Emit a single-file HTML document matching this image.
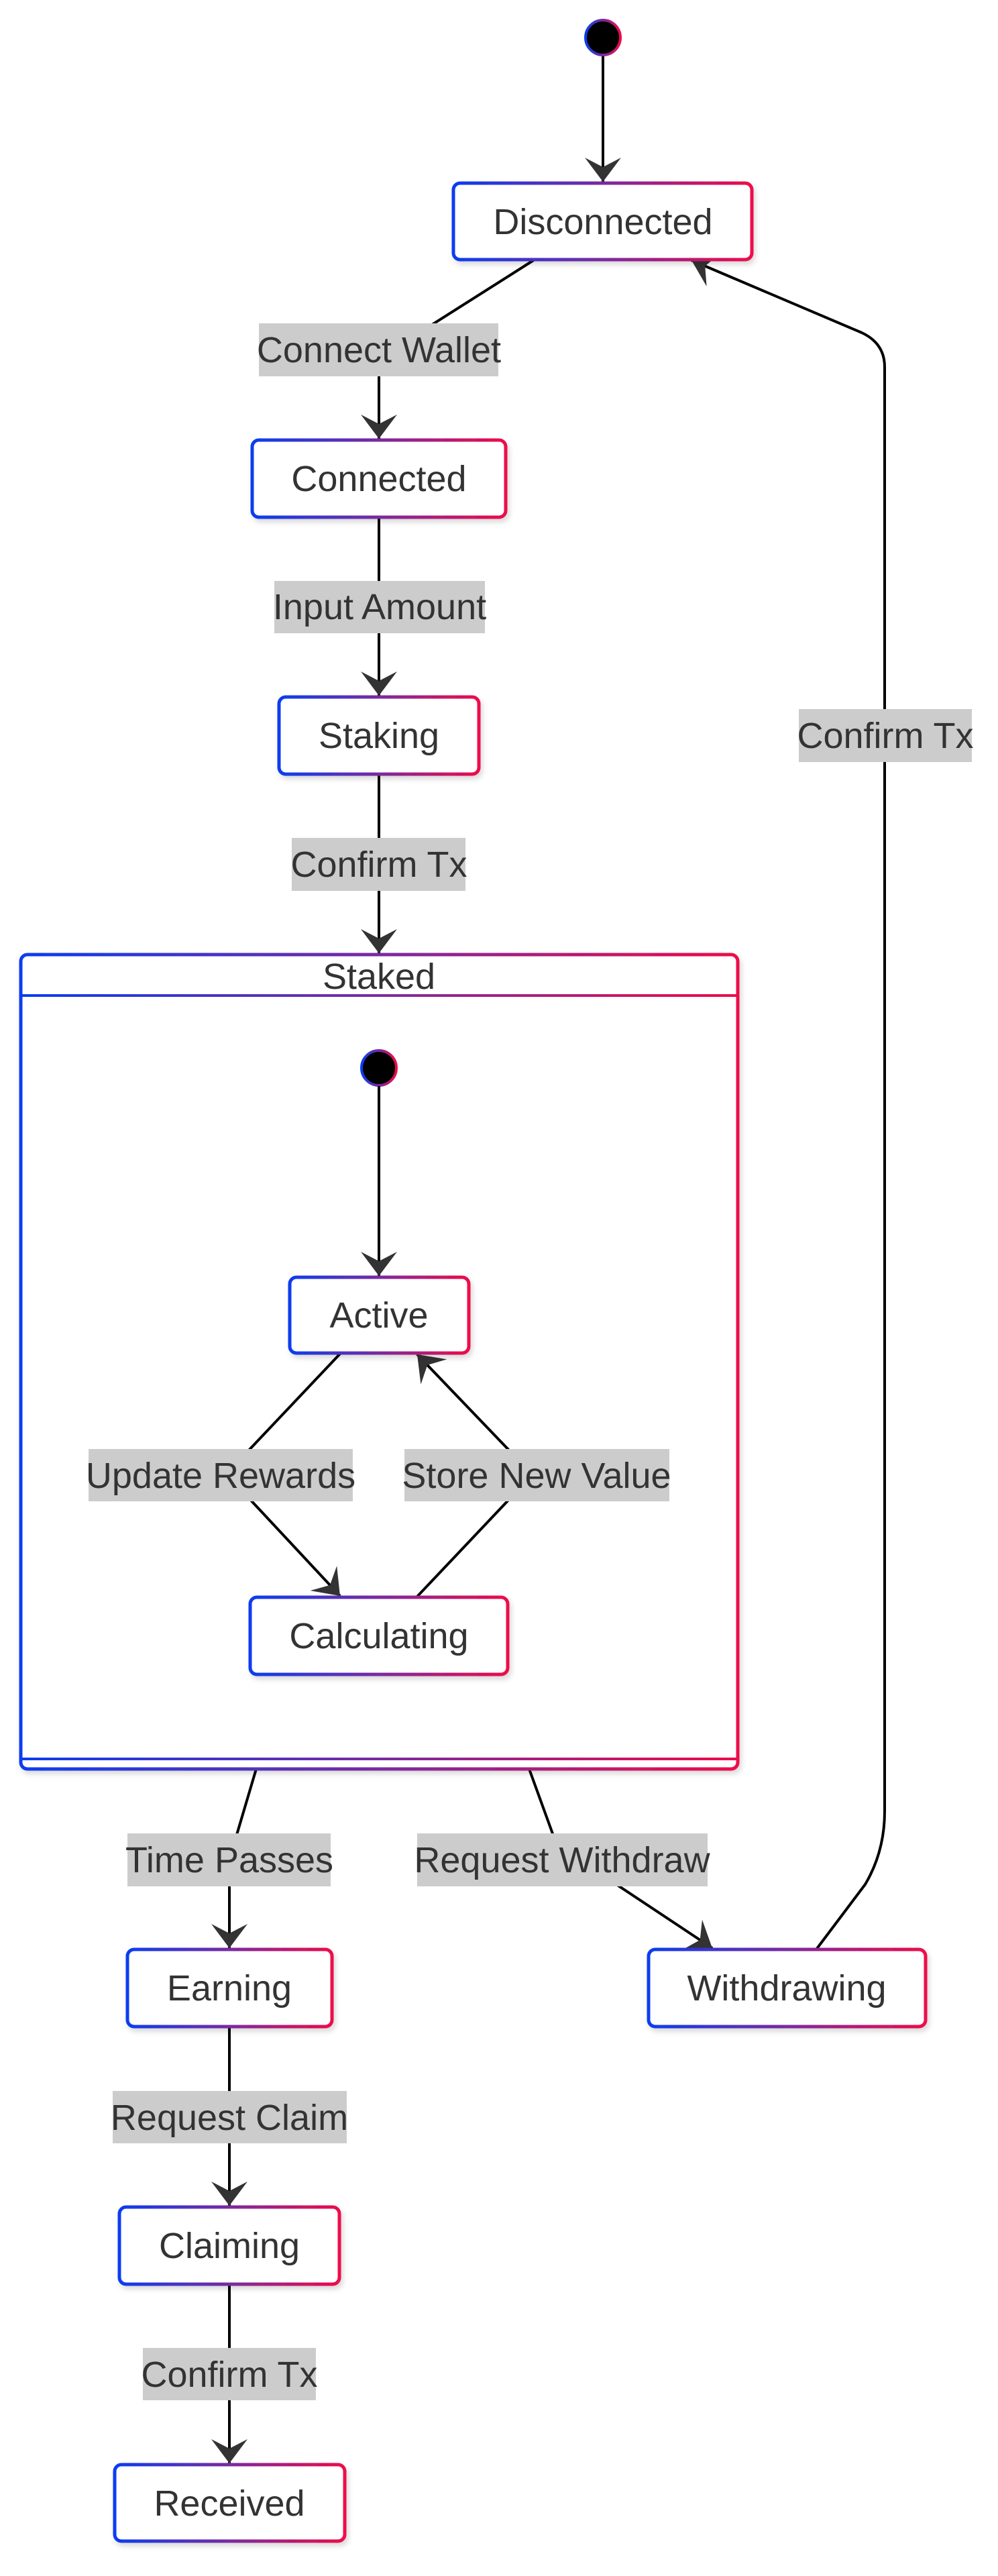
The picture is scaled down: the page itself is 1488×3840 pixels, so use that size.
<!DOCTYPE html>
<html><head><meta charset="utf-8"><style>html,body{margin:0;padding:0;background:#fff}svg{display:block}text{font-family:"Liberation Sans",Arial,sans-serif;font-size:54px;fill:#333;text-anchor:middle}</style></head><body>
<svg width="1488" height="3840" viewBox="0 0 1488 3840" xmlns="http://www.w3.org/2000/svg">
<defs>
<linearGradient id="g" x1="0" y1="0" x2="1" y2="0"><stop offset="0" stop-color="#0a3cf0"/><stop offset="0.5" stop-color="#7a2aa0"/><stop offset="1" stop-color="#ee0a4a"/></linearGradient>
<linearGradient id="gu" gradientUnits="userSpaceOnUse" x1="31" y1="0" x2="1100" y2="0"><stop offset="0" stop-color="#0a3cf0"/><stop offset="0.5" stop-color="#7a2aa0"/><stop offset="1" stop-color="#ee0a4a"/></linearGradient>
<marker id="a" viewBox="-40 -30 45 60" refX="0" refY="0" markerWidth="45" markerHeight="60" markerUnits="userSpaceOnUse" orient="auto"><path d="M0,0 L-36,-27 L-22,0 L-36,27 Z" fill="#333"/></marker>
<filter id="sh" x="-10%" y="-10%" width="120%" height="130%"><feDropShadow dx="3" dy="5" stdDeviation="4" flood-color="#000" flood-opacity="0.15"/></filter>
</defs>
<g fill="none" stroke="#000" stroke-width="4">
<path d="M899,83 L899,271" marker-end="url(#a)"/>
<path d="M797,387 L600,512 Q565,535 565,560 L565,654" marker-end="url(#a)"/>
<path d="M565,771 L565,1037" marker-end="url(#a)"/>
<path d="M565,1154 L565,1421" marker-end="url(#a)"/>
<path d="M382,2637 L350,2745 Q342,2770 342,2800 L342,2904" marker-end="url(#a)"/>
<path d="M789,2637 L830,2750 L1062,2904" marker-end="url(#a)"/>
<path d="M1217,2906 L1290,2809 Q1319,2760 1319,2700 L1319,547 Q1319,512 1285,496 L1031,388" marker-end="url(#a)"/>
<path d="M342,3021 L342,3288" marker-end="url(#a)"/>
<path d="M342,3405 L342,3672" marker-end="url(#a)"/>
</g>
<circle cx="899" cy="56" r="26" fill="#000" stroke="url(#g)" stroke-width="4"/>
<g fill="#fff" stroke="url(#g)" stroke-width="5" filter="url(#sh)">
<rect x="31" y="1423" width="1069" height="1214" rx="10"/>
</g>
<line x1="31" y1="1484" x2="1100" y2="1484" stroke="url(#gu)" stroke-width="4"/>
<line x1="31" y1="2622" x2="1100" y2="2622" stroke="url(#gu)" stroke-width="4"/>
<text x="565" y="1474">Staked</text>
<circle cx="565" cy="1592" r="26" fill="#000" stroke="url(#g)" stroke-width="4"/>
<path d="M565,1619 L565,1902" stroke="#000" stroke-width="4" fill="none" marker-end="url(#a)"/>
<path d="M508,2017 L368,2165 L368,2230 L507,2379" stroke="#000" stroke-width="4" fill="none" marker-end="url(#a)"/>
<path d="M621,2381 L762,2232 L762,2165 L622,2019" stroke="#000" stroke-width="4" fill="none" marker-end="url(#a)"/>
<g fill="#fff" stroke="url(#g)" stroke-width="5" filter="url(#sh)">
<rect x="676" y="273" width="445" height="114" rx="10"/>
<rect x="376" y="656" width="378" height="115" rx="10"/>
<rect x="416" y="1039" width="298" height="115" rx="10"/>
<rect x="432" y="1904" width="267" height="113" rx="10"/>
<rect x="373" y="2381" width="384" height="115" rx="10"/>
<rect x="190" y="2906" width="305" height="115" rx="10"/>
<rect x="967" y="2906" width="413" height="115" rx="10"/>
<rect x="178" y="3290" width="328" height="115" rx="10"/>
<rect x="171" y="3674" width="343" height="114" rx="10"/>
</g>
<text x="899" y="349">Disconnected</text>
<text x="565" y="732">Connected</text>
<text x="565" y="1115">Staking</text>
<text x="565" y="1979">Active</text>
<text x="565" y="2457">Calculating</text>
<text x="342" y="2982">Earning</text>
<text x="1173" y="2982">Withdrawing</text>
<text x="342" y="3366">Claiming</text>
<text x="342" y="3750">Received</text>
<g fill="#ccc">
<rect x="386" y="482" width="357" height="79"/>
<rect x="409" y="866" width="314" height="78"/>
<rect x="435" y="1249" width="259" height="79"/>
<rect x="1191" y="1057" width="258" height="79"/>
<rect x="132" y="2160" width="394" height="78"/>
<rect x="603" y="2160" width="395" height="78"/>
<rect x="190" y="2733" width="303" height="79"/>
<rect x="622" y="2733" width="433" height="79"/>
<rect x="168" y="3117" width="349" height="78"/>
<rect x="213" y="3500" width="258" height="78"/>
</g>
<text x="565" y="540">Connect Wallet</text>
<text x="566" y="923">Input Amount</text>
<text x="565" y="1307">Confirm Tx</text>
<text x="1320" y="1115">Confirm Tx</text>
<text x="329" y="2218">Update Rewards</text>
<text x="800" y="2218">Store New Value</text>
<text x="342" y="2791">Time Passes</text>
<text x="838" y="2791">Request Withdraw</text>
<text x="342" y="3175">Request Claim</text>
<text x="342" y="3558">Confirm Tx</text>
</svg>
</body></html>
